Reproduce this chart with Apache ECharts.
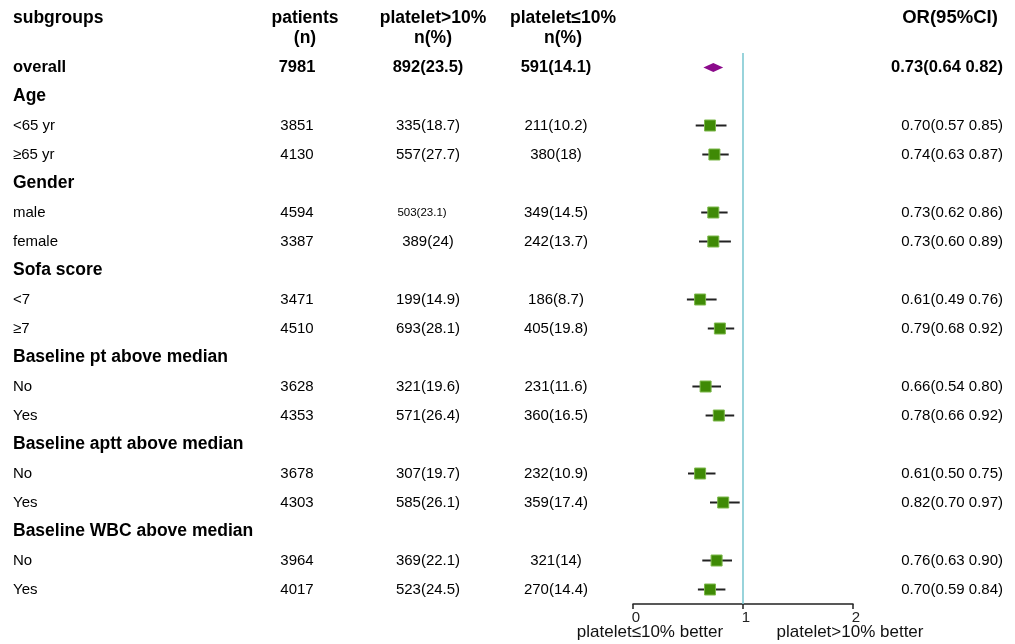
<!DOCTYPE html>
<html>
<head>
<meta charset="utf-8">
<script src="https://cdn.jsdelivr.net/npm/echarts@6/dist/echarts.min.js"></script>
<style>
html,body{margin:0;padding:0;background:#fff;}
#chart{width:1015px;height:644px;}
</style>
</head>
<body>
<div id="chart"></div>
<script>
// ---------------- data ----------------
const rowLabels = ['overall','Age','<65 yr','≥65 yr','Gender','male','female','Sofa score','<7','≥7',
  'Baseline pt above median','No','Yes','Baseline aptt above median','No','Yes',
  'Baseline WBC above median','No','Yes'];
const boldRows = [true,true,false,false,true,false,false,true,false,false,true,false,false,true,false,false,true,false,false];
const patients = ['7981','','3851','4130','','4594','3387','','3471','4510','','3628','4353','','3678','4303','','3964','4017'];
const plateletHigh = ['892(23.5)','','335(18.7)','557(27.7)','','503(23.1)','389(24)','','199(14.9)','693(28.1)','','321(19.6)','571(26.4)','','307(19.7)','585(26.1)','','369(22.1)','523(24.5)'];
const plateletLow = ['591(14.1)','','211(10.2)','380(18)','','349(14.5)','242(13.7)','','186(8.7)','405(19.8)','','231(11.6)','360(16.5)','','232(10.9)','359(17.4)','','321(14)','270(14.4)'];
const orValue = [0.73,null,0.70,0.74,null,0.73,0.73,null,0.61,0.79,null,0.66,0.78,null,0.61,0.82,null,0.76,0.70];
const ciLow   = [0.64,null,0.57,0.63,null,0.62,0.60,null,0.49,0.68,null,0.54,0.66,null,0.50,0.70,null,0.63,0.59];
const ciHigh  = [0.82,null,0.85,0.87,null,0.86,0.89,null,0.76,0.92,null,0.80,0.92,null,0.75,0.97,null,0.90,0.84];
const xTicks = [0,1,2];
const headerCols = ['subgroups','patients\n(n)','platelet>10%\nn(%)','platelet≤10%\nn(%)','OR(95%CI)'];
const footerLabels = ['platelet≤10% better','platelet>10% better'];

// ---------------- chart ----------------
const FONT = "'Liberation Sans', Arial, Helvetica, sans-serif";
const chart = echarts.init(document.getElementById('chart'));
const nRows = rowLabels.length;

function orText(i){
  if (orValue[i] == null) return '';
  return orValue[i].toFixed(2) + '(' + ciLow[i].toFixed(2) + ' ' + ciHigh[i].toFixed(2) + ')';
}

const columns = [
  {x: 13,  align: 'left',   get: i => rowLabels[i]},
  {x: 297, align: 'center', get: i => patients[i]},
  {x: 428, align: 'center', get: i => plateletHigh[i]},
  {x: 556, align: 'center', get: i => plateletLow[i]},
  {x: 1003, align: 'right', get: i => orText(i)}
];

const textSeries = columns.map((col, ci) => ({
  type: 'custom',
  xAxisIndex: 0, yAxisIndex: 0,
  silent: true,
  data: rowLabels.map((_, i) => [col.x, i]),
  renderItem: function(params, api){
    const i = params.dataIndex;
    const txt = col.get(i);
    if (!txt) return null;
    const p = api.coord([api.value(0), api.value(1)]);
    let size, weight;
    if (boldRows[i]) { weight = 'bold'; size = (ci === 0 && i !== 0) ? 17.5 : 16.5; }
    else { weight = 'normal'; size = 15; }
    let x = p[0];
    if (ci === 2 && i === 5) { size = 11.5; x -= 6; }
    return {
      type: 'text',
      x: x, y: p[1],
      style: {
        text: txt,
        font: weight + ' ' + size + 'px ' + FONT,
        fill: '#000',
        textAlign: col.align, align: col.align,
        textVerticalAlign: 'middle', verticalAlign: 'middle'
      }
    };
  }
}));

const ciData = [];
for (let i = 1; i < nRows; i++) if (orValue[i] != null) ciData.push([orValue[i], i, ciLow[i], ciHigh[i]]);

const forestSeries = {
  type: 'custom',
  xAxisIndex: 1, yAxisIndex: 1,
  silent: true,
  data: ciData,
  z: 5,
  renderItem: function(params, api){
    const c = api.coord([api.value(0), api.value(1)]);
    const l = api.coord([api.value(2), api.value(1)]);
    const h = api.coord([api.value(3), api.value(1)]);
    const s = 11;
    return {
      type: 'group',
      children: [
        {type: 'line', shape: {x1: l[0], y1: l[1], x2: h[0], y2: h[1]},
         style: {stroke: '#222', lineWidth: 2}},
        {type: 'rect', shape: {x: c[0] - s/2, y: c[1] - s/2, width: s, height: s},
         style: {fill: '#3f8a06', stroke: '#7db84a', lineWidth: 1}}
      ]
    };
  },
  markLine: {
    silent: true,
    symbol: 'none',
    label: {show: false},
    lineStyle: {color: '#7fc9d2', width: 1.6, type: 'solid'},
    data: [{xAxis: 1}]
  }
};

const overallSeries = {
  type: 'custom',
  xAxisIndex: 1, yAxisIndex: 1,
  silent: true,
  z: 6,
  data: [[orValue[0], 0, ciLow[0], ciHigh[0]]],
  renderItem: function(params, api){
    const c = api.coord([api.value(0), api.value(1)]);
    const l = api.coord([api.value(2), api.value(1)]);
    const h = api.coord([api.value(3), api.value(1)]);
    return {
      type: 'polygon',
      shape: {points: [[l[0], c[1]], [c[0], c[1] - 4.5], [h[0], c[1]], [c[0], c[1] + 4.5]]},
      style: {fill: '#8b0a8b'}
    };
  }
};

const headerX = [13, 305, 433, 563, 950];
const headerAlign = ['left','center','center','center','center'];
const graphics = [];
headerCols.forEach((h, k) => {
  h.split('\n').forEach((line, j) => {
    graphics.push({
      type: 'text', x: headerX[k], y: 18 + j * 20, silent: true,
      style: {text: line, font: 'bold ' + (k === 4 ? 18.5 : 17.5) + 'px ' + FONT, fill: '#000',
        textAlign: headerAlign[k], align: headerAlign[k], textVerticalAlign: 'middle', verticalAlign: 'middle'}
    });
  });
});
[650, 850].forEach((x, k) => {
  graphics.push({
    type: 'text', x: x, y: 632, silent: true,
    style: {text: footerLabels[k], font: 'normal 17px ' + FONT, fill: '#111',
      textAlign: 'center', align: 'center', textVerticalAlign: 'middle', verticalAlign: 'middle'}
  });
});

const option = {
  backgroundColor: '#fff',
  animation: false,
  graphic: graphics,
  grid: [
    {left: 0, right: 0, top: 53, bottom: 40},
    {left: 633, width: 220, top: 53, bottom: 40}
  ],
  xAxis: [
    {gridIndex: 0, type: 'value', min: 0, max: 1015, show: false},
    {gridIndex: 1, type: 'value', min: xTicks[0], max: xTicks[xTicks.length - 1], interval: 1,
     axisLine: {show: true, onZero: false, lineStyle: {color: '#222', width: 1.5}},
     axisTick: {show: true, length: 5, lineStyle: {color: '#222', width: 1.5}},
     axisLabel: {color: '#222', fontSize: 15, fontFamily: FONT, margin: 6, padding: [0, 0, 0, 6],
       formatter: v => xTicks.includes(v) ? String(v) : ''},
     splitLine: {show: false}}
  ],
  yAxis: [
    {gridIndex: 0, type: 'value', min: -0.5, max: nRows - 0.5, inverse: true, show: false},
    {gridIndex: 1, type: 'value', min: -0.5, max: nRows - 0.5, inverse: true, show: false}
  ],
  series: textSeries.concat([forestSeries, overallSeries])
};
chart.setOption(option);
</script>
</body>
</html>
